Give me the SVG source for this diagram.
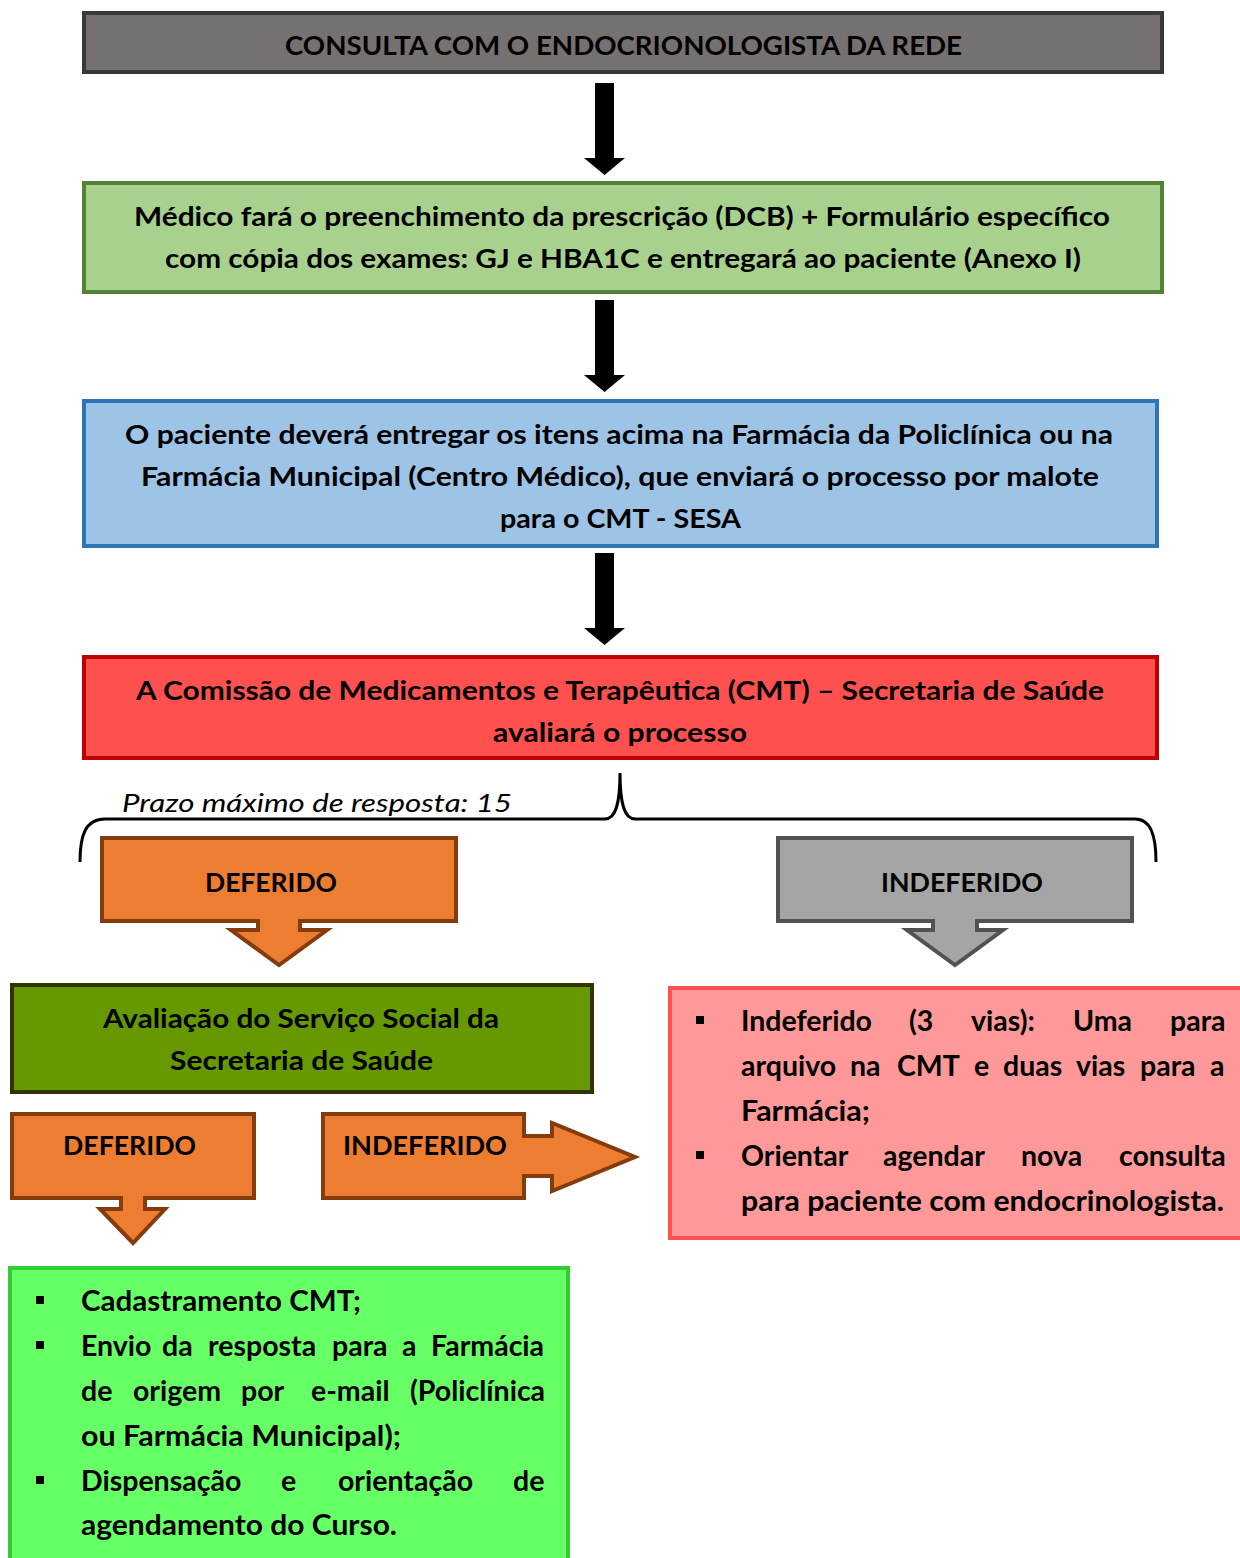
<svg xmlns="http://www.w3.org/2000/svg" width="1240" height="1558" viewBox="0 0 1240 1558">
<style>
text{font-family:Lato,"Open Sans","Liberation Sans",sans-serif;font-weight:bold;fill:#000;font-size:26px}
.b{font-size:28.5px}
.it{font-style:italic;font-weight:normal}
.bx{stroke-width:4}
</style>
<defs>
<polygon id="blk" points="595,0 614,0 614,75 625,75 604.5,92 584,75 595,75"/>
</defs>
<rect width="1240" height="1558" fill="#fff"/>
<g id="connectors" fill="#000">
<use href="#blk" y="83"/>
<use href="#blk" y="300"/>
<use href="#blk" y="553"/>
<path d="M80,862 C80,836 85,819 105,819 L605,819 C615,819 620,806 620,773 C620,806 625,819 635,819 L1135,819 C1151,819 1156,836 1156,862" fill="none" stroke="#000" stroke-width="3"/>
<text class="it" x="122" y="812" textLength="390" lengthAdjust="spacingAndGlyphs">Prazo máximo de resposta: 15</text>
</g>
<g id="n1">
<rect class="bx" x="84" y="13" width="1078" height="59" fill="#767171" stroke="#3b3838"/>
<text x="285" y="55" textLength="677" lengthAdjust="spacingAndGlyphs">CONSULTA COM O ENDOCRIONOLOGISTA DA REDE</text>
</g>
<g id="n2">
<rect class="bx" x="84" y="183" width="1078" height="109" fill="#a9d18e" stroke="#548235"/>
<text x="134" y="226" textLength="976" lengthAdjust="spacingAndGlyphs">Médico fará o preenchimento da prescrição (DCB) + Formulário específico</text>
<text x="165" y="268" textLength="916" lengthAdjust="spacingAndGlyphs">com cópia dos exames: GJ e HBA1C e entregará ao paciente (Anexo I)</text>
</g>
<g id="n3">
<rect class="bx" x="84" y="401" width="1073" height="145" fill="#9dc3e6" stroke="#2e75b6"/>
<text x="125" y="444" textLength="988" lengthAdjust="spacingAndGlyphs">O paciente deverá entregar os itens acima na Farmácia da Policlínica ou na</text>
<text x="141" y="486" textLength="958" lengthAdjust="spacingAndGlyphs">Farmácia Municipal (Centro Médico), que enviará o processo por malote</text>
<text x="500" y="528" textLength="241" lengthAdjust="spacingAndGlyphs">para o CMT - SESA</text>
</g>
<g id="n4">
<rect class="bx" x="84" y="657" width="1073" height="101" fill="#ff5050" stroke="#c00000"/>
<text x="136" y="700" textLength="968" lengthAdjust="spacingAndGlyphs">A Comissão de Medicamentos e Terapêutica (CMT) – Secretaria de Saúde</text>
<text x="493" y="742" textLength="254" lengthAdjust="spacingAndGlyphs">avaliará o processo</text>
</g>
<g id="n5">
<path class="bx" d="M102,838 H456 V921 H300 V930 H327 L279,965 L231,930 H258 V921 H102 Z" fill="#ed7d31" stroke="#843c0c"/>
<text x="205" y="892" textLength="132" lengthAdjust="spacingAndGlyphs">DEFERIDO</text>
</g>
<g id="n6">
<path class="bx" d="M778,838 H1132 V921 H977 V930 H1003 L955,965 L907,930 H933 V921 H778 Z" fill="#a5a5a5" stroke="#525252"/>
<text x="881" y="892" textLength="162" lengthAdjust="spacingAndGlyphs">INDEFERIDO</text>
</g>
<g id="n7">
<rect class="bx" x="12" y="985" width="580" height="107" fill="#669900" stroke="#333300"/>
<text x="103" y="1028" textLength="396" lengthAdjust="spacingAndGlyphs">Avaliação do Serviço Social da</text>
<text x="170" y="1070" textLength="263" lengthAdjust="spacingAndGlyphs">Secretaria de Saúde</text>
</g>
<g id="n8">
<path class="bx" d="M12,1114 H254 V1198 H145 V1209 H165 L133,1243 L100,1209 H121 V1198 H12 Z" fill="#ed7d31" stroke="#843c0c"/>
<text x="63" y="1155" textLength="133" lengthAdjust="spacingAndGlyphs">DEFERIDO</text>
</g>
<g id="n9">
<path class="bx" d="M323,1114 H524 V1136 H552 V1123 L635,1157 L552,1191 V1176 H524 V1198 H323 Z" fill="#ed7d31" stroke="#843c0c"/>
<text x="343" y="1155" textLength="164" lengthAdjust="spacingAndGlyphs">INDEFERIDO</text>
</g>
<g id="n10">
<rect class="bx" x="670" y="988" width="574" height="250" fill="#ff9999" stroke="#ff5050"/>
<rect x="696" y="1016" width="8" height="8"/>
<rect x="696" y="1151" width="8" height="8"/>
<text class="b" y="1031"><tspan x="741">Indeferido</tspan> <tspan x="909">(3</tspan> <tspan x="971">vias):</tspan> <tspan x="1073">Uma</tspan> <tspan x="1170">para</tspan></text>
<text class="b" y="1076"><tspan x="741">arquivo</tspan> <tspan x="850">na</tspan> <tspan x="897">CMT</tspan> <tspan x="974">e</tspan> <tspan x="1003">duas</tspan> <tspan x="1076">vias</tspan> <tspan x="1140">para</tspan> <tspan x="1210">a</tspan></text>
<text class="b" x="741" y="1121" textLength="129" lengthAdjust="spacingAndGlyphs">Farmácia;</text>
<text class="b" y="1166"><tspan x="741">Orientar</tspan> <tspan x="883">agendar</tspan> <tspan x="1021">nova</tspan> <tspan x="1119">consulta</tspan></text>
<text class="b" x="741" y="1211" textLength="483" lengthAdjust="spacingAndGlyphs">para paciente com endocrinologista.</text>
</g>
<g id="n11">
<rect class="bx" x="10" y="1268" width="558" height="300" fill="#66ff66" stroke="#33cc33"/>
<rect x="36" y="1296" width="8" height="8"/>
<rect x="36" y="1341" width="8" height="8"/>
<rect x="36" y="1476" width="8" height="8"/>
<text class="b" x="81" y="1311" textLength="280" lengthAdjust="spacingAndGlyphs">Cadastramento CMT;</text>
<text class="b" y="1356"><tspan x="81">Envio</tspan> <tspan x="162">da</tspan> <tspan x="208">resposta</tspan> <tspan x="332">para</tspan> <tspan x="402">a</tspan> <tspan x="431">Farmácia</tspan></text>
<text class="b" y="1401"><tspan x="81">de</tspan> <tspan x="133">origem</tspan> <tspan x="241">por</tspan> <tspan x="311">e-mail</tspan> <tspan x="410">(Policlínica</tspan></text>
<text class="b" x="81" y="1446" textLength="320" lengthAdjust="spacingAndGlyphs">ou Farmácia Municipal);</text>
<text class="b" y="1491"><tspan x="81">Dispensação</tspan> <tspan x="281">e</tspan> <tspan x="338">orientação</tspan> <tspan x="513">de</tspan></text>
<text class="b" x="81" y="1535" textLength="316" lengthAdjust="spacingAndGlyphs">agendamento do Curso.</text>
</g>
</svg>
